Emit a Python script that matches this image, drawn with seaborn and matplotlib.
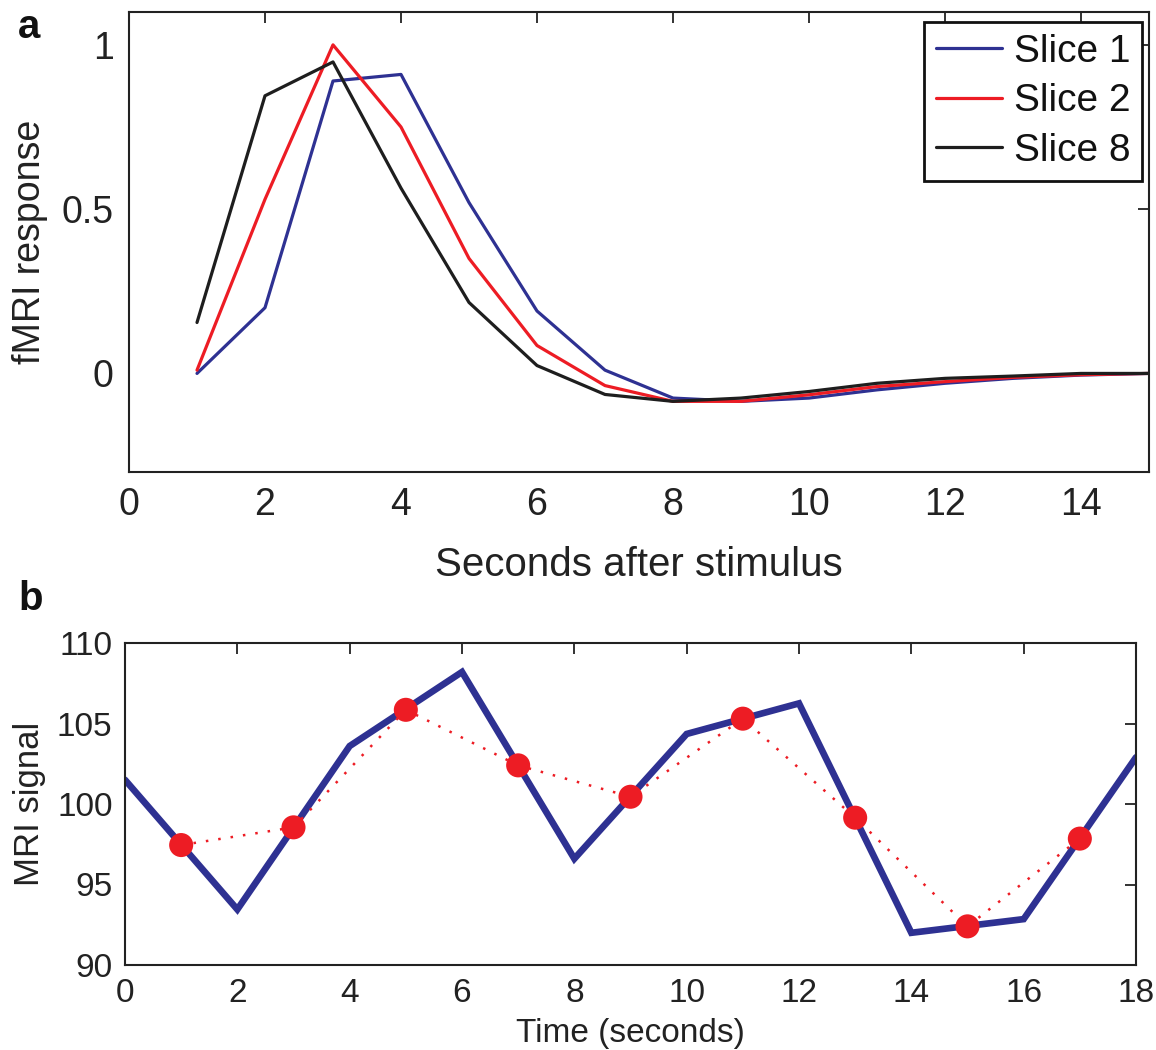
import numpy as np
import pandas as pd
import matplotlib
matplotlib.use("Agg")
import matplotlib.pyplot as plt
import seaborn as sns

# ---- Panel a data ----
seconds = [1, 2, 3, 4, 5, 6, 7, 8, 9, 10, 11, 12, 13, 14, 15]
slice1 = [0.0, 0.20, 0.89, 0.91, 0.52, 0.19, 0.01, -0.075, -0.085, -0.075, -0.05, -0.03, -0.015, -0.005, 0.0]
slice2 = [0.01, 0.53, 1.0, 0.75, 0.35, 0.085, -0.037, -0.085, -0.085, -0.065, -0.04, -0.025, -0.012, -0.004, 0.0]
slice8 = [0.155, 0.845, 0.948, 0.564, 0.216, 0.024, -0.064, -0.085, -0.075, -0.055, -0.03, -0.015, -0.008, 0.0, 0.0]
slice_names = ["Slice 1", "Slice 2", "Slice 8"]

# ---- Panel b data ----
time_full = [0, 2, 4, 6, 8, 10, 12, 14, 16, 18]
signal_full = [101.5, 93.45, 103.6, 108.2, 96.6, 104.35, 106.25, 92.0, 92.85, 102.9]
time_sampled = [1, 3, 5, 7, 9, 11, 13, 15, 17]
signal_sampled = [97.45, 98.55, 105.85, 102.4, 100.45, 105.3, 99.15, 92.4, 97.85]

xticks_a = [0, 2, 4, 6, 8, 10, 12, 14]
yticks_a = [0, 0.5, 1]
yticklabels_a = ["0", "0.5", "1"]
xticks_b = [0, 2, 4, 6, 8, 10, 12, 14, 16, 18]
yticks_b = [90, 95, 100, 105, 110]

sns.set_theme(style="white")
plt.rcParams["font.family"] = ["Liberation Sans", "DejaVu Sans"]
plt.rcParams["axes.edgecolor"] = "#222222"
plt.rcParams["xtick.color"] = "#222222"
plt.rcParams["ytick.color"] = "#222222"
plt.rcParams["text.color"] = "#111111"
plt.rcParams["axes.labelcolor"] = "#222222"

BLUE = "#2e3192"
RED = "#ed1c24"
BLACK = "#1e1e1e"

fig = plt.figure(figsize=(11.56, 10.5), dpi=100)
ax_a = fig.add_axes([129/1156, 1 - 472/1050, 1020/1156, 460/1050])
ax_b = fig.add_axes([125/1156, 1 - 965/1050, 1011/1156, 322/1050])

# ---- Panel a ----
df_a = pd.DataFrame({
    "t": seconds * 3,
    "resp": slice1 + slice2 + slice8,
    "slice": [slice_names[0]] * len(seconds) + [slice_names[1]] * len(seconds) + [slice_names[2]] * len(seconds),
})
sns.lineplot(data=df_a, x="t", y="resp", hue="slice", hue_order=slice_names,
             palette=[BLUE, RED, BLACK], linewidth=2.3, ax=ax_a, legend=True)
ax_a.set_xlim(0, 15)
ax_a.set_ylim(-0.3, 1.1)
ax_a.set_xticks(xticks_a)
ax_a.set_yticks(yticks_a)
ax_a.set_yticklabels(yticklabels_a)
ax_a.set_xlabel("Seconds after stimulus", fontsize=29, labelpad=16)
ax_a.set_ylabel("fMRI response", fontsize=27, labelpad=10)
ax_a.tick_params(axis="both", which="both", direction="in", length=8, width=1.3,
                 labelsize=27, top=True, right=True, pad=11)
for s in ax_a.spines.values():
    s.set_linewidth(1.5)
handles, labels = ax_a.get_legend_handles_labels()
leg = ax_a.legend(handles, labels, loc="upper right",
                  bbox_to_anchor=(0.9931, 0.978), borderaxespad=0,
                  fontsize=28, handlelength=1.7, handletextpad=0.3,
                  labelspacing=0.35, borderpad=0.3, fancybox=False,
                  framealpha=1, edgecolor="#111111")
leg.get_frame().set_linewidth(2)
for lh in leg.get_lines():
    lh.set_linewidth(2.3)

# ---- Panel b ----
df_full = pd.DataFrame({"t": time_full, "sig": signal_full})
df_samp = pd.DataFrame({"t": time_sampled, "sig": signal_sampled})
sns.lineplot(data=df_full, x="t", y="sig", color=BLUE, linewidth=4.8, ax=ax_b,
             solid_joinstyle="miter", zorder=2)
sns.lineplot(data=df_samp, x="t", y="sig", color=RED, linewidth=1.8,
             linestyle=(0, (1.0, 4.0)), ax=ax_b, zorder=3)
sns.scatterplot(data=df_samp, x="t", y="sig", color=RED, s=300, edgecolor="none",
                ax=ax_b, zorder=4)
ax_b.set_xlim(0, 18)
ax_b.set_ylim(90, 110)
ax_b.set_xticks(xticks_b)
ax_b.set_yticks(yticks_b)
ax_b.set_xlabel("Time (seconds)", fontsize=24, labelpad=7)
ax_b.set_ylabel("MRI signal", fontsize=25, labelpad=8)
ax_b.tick_params(axis="both", which="both", direction="in", length=8, width=1.3,
                 labelsize=24, top=True, right=True, pad=9)
for s in ax_b.spines.values():
    s.set_linewidth(1.5)

# panel letters
fig.text(18/1156, 1 - 38/1050, "a", fontsize=29, fontweight="bold", ha="left", va="baseline")
fig.text(18/1156, 1 - 610/1050, "b", fontsize=29, fontweight="bold", ha="left", va="baseline")

fig.savefig("out.png", dpi=100)
